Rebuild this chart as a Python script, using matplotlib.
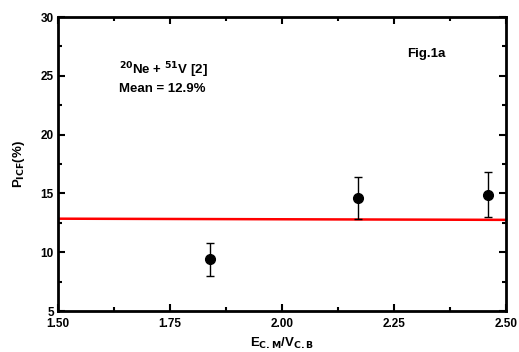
import matplotlib.pyplot as plt
from matplotlib.ticker import MultipleLocator

plt.rcParams['font.family'] = ['Liberation Sans', 'DejaVu Sans']
plt.rcParams['font.weight'] = 'bold'
plt.rcParams['mathtext.fontset'] = 'custom'

ratio = [1.84, 2.17, 2.46]
picf = [9.4, 14.6, 14.9]
err = [1.4, 1.8, 1.9]
fit_x = [1.5, 2.5]
fit_y = [12.85, 12.75]

fig = plt.figure(figsize=(5.19, 3.52), dpi=100)
ax = fig.add_axes([58/519, 1 - 311/352, 448/519, 294/352])

ax.plot(fit_x, fit_y, color='red', lw=1.8)
ax.errorbar(ratio, picf, yerr=err, fmt='o', color='black', ms=7,
            ecolor='black', elinewidth=1, capsize=3, capthick=1)

ax.set_xlim(1.5, 2.5)
ax.set_ylim(5, 30)
ax.xaxis.set_major_locator(MultipleLocator(0.25))
ax.xaxis.set_minor_locator(MultipleLocator(0.125))
ax.yaxis.set_major_locator(MultipleLocator(5))
ax.yaxis.set_minor_locator(MultipleLocator(2.5))
ax.tick_params(which='both', direction='in', top=True, right=True, width=1.5,
               labelsize=8.5)
ax.tick_params(axis='x', pad=5)
ax.tick_params(axis='y', pad=3)
ax.tick_params(which='major', length=5)
ax.tick_params(which='minor', length=3)
for s in ax.spines.values():
    s.set_linewidth(2)
for lab in ax.get_xticklabels() + ax.get_yticklabels():
    lab.set_fontweight('bold')

ax.set_xlabel(r'E$_{\mathbf{C.M}}$/V$_{\mathbf{C.B}}$', fontsize=9.5, fontweight='bold', labelpad=4)
ax.set_ylabel(r'P$_{\mathbf{ICF}}$(%)', fontsize=9.5, fontweight='bold', labelpad=10)

ax.text(0.137, 0.82, r'$^{\mathbf{20}}$Ne + $^{\mathbf{51}}$V [2]', transform=ax.transAxes,
        fontsize=9.5, fontweight='bold', va='center')
ax.text(0.137, 0.755, 'Mean = 12.9%', transform=ax.transAxes,
        fontsize=9.5, fontweight='bold', va='center')
ax.text(0.78, 0.875, 'Fig.1a', transform=ax.transAxes,
        fontsize=9.5, fontweight='bold', va='center')

fig.savefig('out.png', dpi=100)
